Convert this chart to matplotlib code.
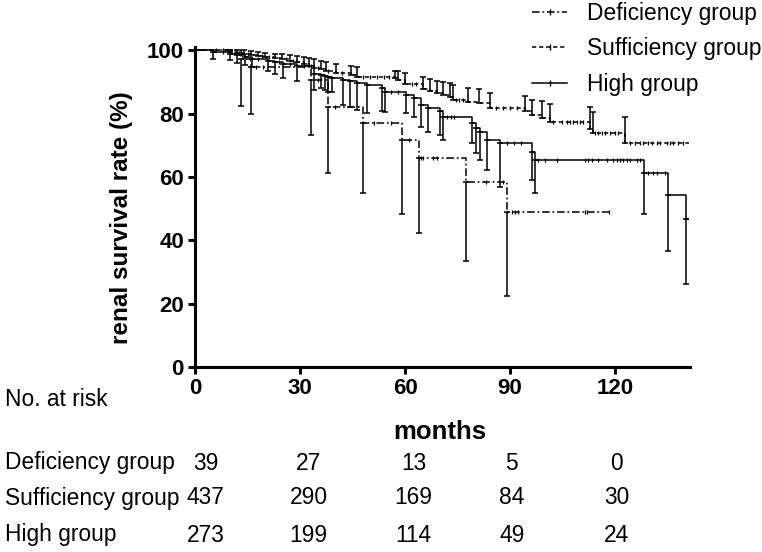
import numpy as np
import matplotlib
matplotlib.use('Agg')
import matplotlib.pyplot as plt
from matplotlib.lines import Line2D

plt.rcParams['font.family'] = ['Liberation Sans', 'DejaVu Sans']

# Kaplan-Meier steps: event time (months), survival (%), CI end
def_t = [13.1, 16.0, 33.1, 38.0, 48.0, 59.1, 64.0, 77.4, 89.1]
def_s = [97.4, 94.7, 90.7, 82.0, 77.1, 71.7, 66.0, 58.5, 49.0]
def_lo = [82.5, 79.9, 73.3, 61.3, 55.0, 48.3, 42.3, 33.5, 22.4]
def_end = 118.3
def_cens = [17.5, 19.5, 35, 40, 51, 56, 61, 64.5, 65, 68, 69, 83, 88,
            90.6, 91.4, 92.3, 111.4, 112, 118.3]

suf_t = [10, 12, 14, 16, 18, 20, 22.9, 24.9, 27.1, 29, 31, 32.6, 34, 36, 37.4,
         40.3, 44.6, 46.3, 57.1, 58, 60, 65.1, 67.1, 69.1, 70.9, 72.9, 73.7,
         78, 81.1, 84.3, 94.3, 96.3, 99.1, 101.4, 112.9, 113.7, 122.9]
suf_s = [99.6, 99.3, 99.0, 98.6, 98.3, 98.0, 97.6, 97.2, 96.8, 96.3, 95.7, 95.1,
         94.6, 94.0, 93.4, 92.9, 92.3, 91.7, 91.2, 90.7, 89.3, 87.9, 87.3, 86.6,
         85.9, 85.2, 84.4, 83.8, 83.3, 81.7, 81.0, 79.6, 78.7, 77.3, 75.3, 73.9,
         70.8]
suf_hi = [100, 100, 100, 99.8, 99.5, 99.3, 99.0, 98.8, 98.5, 98.2, 97.8, 97.5,
          97.2, 96.6, 96.3, 95.6, 95.0, 94.8, 93.6, 93.4, 92.9, 91.7, 91.0, 90.5,
          90.0, 89.6, 89.1, 88.2, 87.8, 86.7, 85.6, 84.4, 84.0, 83.1, 82.1, 80.6,
          79.0]
suf_end = 141
suf_cens = [6, 8, 12.5, 15, 19, 21, 26, 28, 33, 35, 38, 42, 48, 50, 52, 54, 55.5,
            62, 63, 74.5, 75.5, 76.5, 86, 88, 90, 92, 102.3, 104.9, 106.3, 107.1,
            108, 109.1, 110, 110.9, 114.3, 115.1, 116.3, 117.1, 118.6, 120, 120.9,
            124.3, 125.7, 127.1, 128, 129.4, 130.6, 132, 132.9, 134.9, 135.7,
            136.6, 138, 139.4]

high_t = [5.1, 10, 12, 14.3, 16.3, 20.9, 22.9, 25, 29, 34, 36, 37, 38, 39,
          42.3, 44.3, 46.3, 49.1, 53.4, 54.3, 60.3, 62.6, 64.6, 66.6, 70, 70.9,
          79.1, 80.3, 81.4, 83.4, 87.1, 96.3, 97.1, 128.3, 135, 140.3]
high_s = [99.6, 99.0, 98.5, 98.0, 97.4, 96.8, 96.2, 95.6, 95.0, 92.5, 92.2, 91.9,
          91.6, 91.3, 90.7, 90.2, 89.6, 89.1, 88.0, 87.0, 86.0, 84.9, 82.8, 81.7,
          80.8, 79.1, 77.0, 75.5, 74.3, 71.7, 70.7, 68.0, 65.4, 61.4, 54.3, 46.8]
high_lo = [97.3, 97.0, 96.0, 95.5, 94.9, 93.5, 92.5, 91.2, 90.3, 87.5, 88.0, 87.5,
           87.0, 86.9, 82.8, 82.0, 81.2, 80.3, 81.0, 80.5, 80.3, 79.0, 75.9, 74.3,
           73.3, 71.7, 70.8, 67.6, 65.4, 62.2, 57.0, 59.0, 55.0, 48.3, 36.8, 26.2]
high_end = 140.8
high_cens = [8, 18, 24, 27, 31, 56, 58, 72, 73, 74, 89, 91, 93, 98, 100, 103.4,
             111.4, 112.3, 113.4, 115.1, 117.7, 119.4, 120.6, 121.4, 122.3,
             123.4, 124.3, 126.3, 127.1, 129.4, 130.9, 132, 134.3]

# number at risk table
risk_times = [0, 30, 60, 90, 120]
risk_groups = ['Deficiency group', 'Sufficiency group', 'High group']
risk_def = [39, 27, 13, 5, 0]
risk_suf = [437, 290, 169, 84, 30]
risk_high = [273, 199, 114, 49, 24]

LW = 1.1
DASH_DEF = (5, 1.8, 1.2, 1.8)
DASH_SUF = (2.8, 1.8)


def draw_group(ax, t, s, ci, end, cens, dashes=None, up=False):
    tt = [0] + t + [end]
    ss = [100] + s + [s[-1]]
    line, = ax.step(tt, ss, where='post', color='k', lw=LW)
    if dashes is not None:
        line.set_dashes(dashes)
    s_arr = np.array(s)
    ci_arr = np.array(ci)
    zero = np.zeros_like(s_arr)
    if up:
        yerr = [zero, ci_arr - s_arr]
    else:
        yerr = [s_arr - ci_arr, zero]
    ax.errorbar(t, s, yerr=yerr, fmt='none', ecolor='k', elinewidth=LW,
                capsize=2.5, capthick=LW)
    # censored cases sit on the step they fall on
    idx = np.searchsorted(t, cens, side='right')
    cy = np.array([100] + s)[idx]
    ax.plot(cens, cy, ls='none', marker='|', ms=3.5, mew=0.9, color='k')


fig = plt.figure(figsize=(7.62, 5.52), dpi=100)
ax = fig.add_axes([195 / 762, 1 - 367 / 552, 495 / 762, 319.7 / 552])

draw_group(ax, def_t, def_s, def_lo, def_end, def_cens, dashes=DASH_DEF)
draw_group(ax, suf_t, suf_s, suf_hi, suf_end, suf_cens, dashes=DASH_SUF, up=True)
draw_group(ax, high_t, high_s, high_lo, high_end, high_cens)

ax.set_xlim(0, 141.4)
ax.set_ylim(0, 101)
ax.set_xticks(risk_times)
ax.set_yticks([0, 20, 40, 60, 80, 100])
for side in ['top', 'right']:
    ax.spines[side].set_visible(False)
for side in ['left', 'bottom']:
    ax.spines[side].set_linewidth(2.2)
ax.tick_params(width=2.2, length=5, pad=3, labelsize=16)
for lab in ax.get_xticklabels() + ax.get_yticklabels():
    lab.set_fontweight('bold')

ax.set_xlabel('months', fontsize=18.5, fontweight='bold')
ax.xaxis.set_label_coords(0.495, -0.165)
ax.set_ylabel('renal survival rate (%)', fontsize=17.5, fontweight='bold')
ax.yaxis.set_label_coords(-0.125, 0.468)

handles = [
    Line2D([0], [0], color='k', lw=LW, dashes=DASH_DEF, marker='|', ms=4),
    Line2D([0], [0], color='k', lw=LW, dashes=DASH_SUF, marker='|', ms=4),
    Line2D([0], [0], color='k', lw=LW, ls='-', marker='|', ms=4),
]
fig.legend(handles, risk_groups, loc='upper left', bbox_to_anchor=(532 / 762, 0.997),
           frameon=False, fontsize=16.4, numpoints=1, handlelength=1.55,
           handletextpad=0.85, labelspacing=0.55, borderpad=0, borderaxespad=0)

# no. at risk table under the axis
fs = 16.4
fig.text(5 / 762, 1 - 400 / 552, 'No. at risk', fontsize=fs, va='center')
row_y = [463, 498, 535]
col_shift = [3, 2.5, 2.5, 0.5, 0.5]
for name, counts, y in zip(risk_groups, [risk_def, risk_suf, risk_high], row_y):
    fig.text(5 / 762, 1 - y / 552, name, fontsize=fs, va='center')
    for tm, n, dx in zip(risk_times, counts, col_shift):
        xf = (195 + (tm + dx) * 3.5) / 762
        fig.text(xf, 1 - y / 552, str(n), fontsize=fs, va='center', ha='center')

fig.savefig('out.png', dpi=100)
